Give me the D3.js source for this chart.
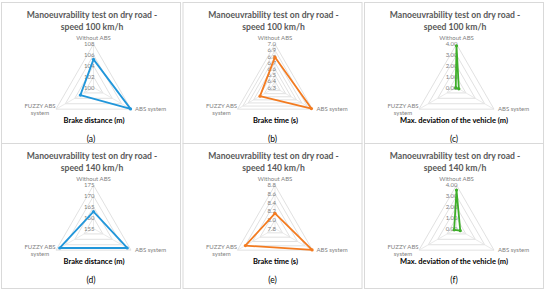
<!DOCTYPE html>
<html>
<head>
<meta charset="utf-8">
<script src="https://cdn.jsdelivr.net/npm/d3@7"></script>
<style>
  body { margin: 0; background: #fff; }
  text { font-family: Lato, "Open Sans", "Liberation Sans", sans-serif; }
</style>
</head>
<body>
<svg id="chart"></svg>
<script>
// Kategoriat (radarin akselit)
const categories = ["Without ABS", "ABS system", "FUZZY ABS system"];

// Sarjojen arvot luettuna kuvasta
const brakeDist100 = [105.2, 107.9, 102.8];
const brakeTime100 = [6.79, 6.98, 6.58];
const deviation100 = [3.85, 0.25, 0.08];
const brakeDist140 = [162.8, 173.0, 173.0];
const brakeTime140 = [8.15, 8.79, 8.59];
const deviation140 = [3.55, 0.40, 0.25];

// Akselien tick-arvot
const ticksDist100 = [100, 102, 104, 106, 108];
const ticksTime100 = [6.3, 6.4, 6.5, 6.6, 6.7, 6.8, 6.9, 7.0];
const ticksDev = [0, 1, 2, 3, 4];
const ticksDist140 = [155, 160, 165, 170, 175];
const ticksTime140 = [7.8, 8.0, 8.2, 8.4, 8.6, 8.8];

const speeds = ["100", "140"];
const axisTitles = ["Brake distance (m)", "Brake time (s)", "Max. deviation of the vehicle (m)"];
const panelLabels = ["(a)", "(b)", "(c)", "(d)", "(e)", "(f)"];

const colors = ["#2196da", "#f37b20", "#3fae2a"];
const formats = [d3.format("d"), d3.format(".1f"), d3.format(".2f")];

const panels = [
    { values: brakeDist100, ticks: ticksDist100 },
    { values: brakeTime100, ticks: ticksTime100 },
    { values: deviation100, ticks: ticksDev },
    { values: brakeDist140, ticks: ticksDist140 },
    { values: brakeTime140, ticks: ticksTime140 },
    { values: deviation140, ticks: ticksDev }
];

const svg = d3.select("#chart")
    .attr("width", 550)
    .attr("height", 291);

const radius = 43.3;
const panelW = 181.5;
const panelH = 141;

// Kulma kategorian indeksin mukaan, ylhäältä myötäpäivään
const angle = d3.scaleLinear()
    .domain([0, categories.length])
    .range([0, 2 * Math.PI]);

panels.forEach((p, i) => {
    const col = i % 3;
    const row = Math.floor(i / 3);
    const x0 = col * panelW;
    const y0 = row * panelH;
    const cx = 93.5;
    const cy = 87.5;

    const g = svg.append("g")
        .attr("transform", `translate(${x0}, ${y0})`);

    // Paneelin reunus
    g.append("rect")
        .attr("x", 1.5)
        .attr("y", 2.5)
        .attr("width", 179)
        .attr("height", row === 0 ? 141 : 145)
        .attr("fill", "#fff")
        .attr("stroke", "#d9d9d9")
        .attr("stroke-width", 1);

    // Otsikko
    const title = g.append("text")
        .attr("x", 92)
        .attr("text-anchor", "middle")
        .attr("fill", "#595959")
        .attr("font-size", 8.6)
        .attr("font-weight", "bold");
    title.append("tspan").attr("x", 92).attr("y", 18).text("Manoeuvrability test on dry road -");
    title.append("tspan").attr("x", 92).attr("y", 30).text(`speed ${speeds[row]} km/h`);

    const r = d3.scaleLinear()
        .domain([p.ticks[0], p.ticks[p.ticks.length - 1]])
        .range([0, radius]);

    const radar = g.append("g")
        .attr("transform", `translate(${cx}, ${cy})`);

    const line = d3.lineRadial()
        .angle((d, k) => angle(k))
        .radius(d => r(d))
        .curve(d3.curveLinearClosed);

    // Ruudukko (kolmiot)
    radar.selectAll(".grid")
        .data(p.ticks.slice(1))
        .enter()
        .append("path")
        .attr("d", t => line(categories.map(() => t)))
        .attr("fill", "none")
        .attr("stroke", "#d9d9d9")
        .attr("stroke-width", 0.8);

    // Akselit
    radar.selectAll(".spoke")
        .data(categories)
        .enter()
        .append("line")
        .attr("x2", (d, k) => radius * Math.sin(angle(k)))
        .attr("y2", (d, k) => -radius * Math.cos(angle(k)))
        .attr("stroke", "#e4e4e4")
        .attr("stroke-width", 0.8);

    // Tick-arvot
    radar.selectAll(".tick")
        .data(p.ticks)
        .enter()
        .append("text")
        .attr("x", 1)
        .attr("y", t => -r(t) + 2)
        .attr("text-anchor", "end")
        .attr("fill", "#7f7f7f")
        .attr("font-size", 6)
        .text(t => formats[col](t));

    // Kategorioiden nimet
    radar.append("text")
        .attr("x", 0)
        .attr("y", -radius - 4.5)
        .attr("text-anchor", "middle")
        .attr("fill", "#7f7f7f")
        .attr("font-size", 6)
        .text(categories[0]);

    radar.append("text")
        .attr("x", radius * Math.sin(angle(1)) + 4)
        .attr("y", -radius * Math.cos(angle(1)) + 2)
        .attr("fill", "#7f7f7f")
        .attr("font-size", 6)
        .text(categories[1]);

    const fuzzy = radar.append("text")
        .attr("text-anchor", "middle")
        .attr("fill", "#7f7f7f")
        .attr("font-size", 6);
    const fx = radius * Math.sin(angle(2)) - 16;
    const fy = -radius * Math.cos(angle(2));
    fuzzy.append("tspan").attr("x", fx).attr("y", fy - 1.5).text("FUZZY ABS");
    fuzzy.append("tspan").attr("x", fx).attr("y", fy + 5.5).text("system");

    // Datasarja
    radar.append("path")
        .attr("d", line(p.values))
        .attr("fill", "none")
        .attr("stroke", colors[col])
        .attr("stroke-width", 1.8)
        .attr("stroke-linejoin", "round");

    radar.selectAll(".dot")
        .data(p.values)
        .enter()
        .append("circle")
        .attr("cx", (d, k) => r(d) * Math.sin(angle(k)))
        .attr("cy", (d, k) => -r(d) * Math.cos(angle(k)))
        .attr("r", 1.6)
        .attr("fill", colors[col]);

    // Akselin nimi ja paneelin kirjain
    g.append("text")
        .attr("x", col === 2 ? 91 : 94)
        .attr("y", 123)
        .attr("text-anchor", "middle")
        .attr("fill", "#000")
        .attr("font-size", 7.5)
        .attr("font-weight", "bold")
        .text(axisTitles[col]);

    g.append("text")
        .attr("x", 91)
        .attr("y", 142)
        .attr("text-anchor", "middle")
        .attr("fill", "#000")
        .attr("font-size", 8.5)
        .text(panelLabels[i]);
});
</script>
</body>
</html>
